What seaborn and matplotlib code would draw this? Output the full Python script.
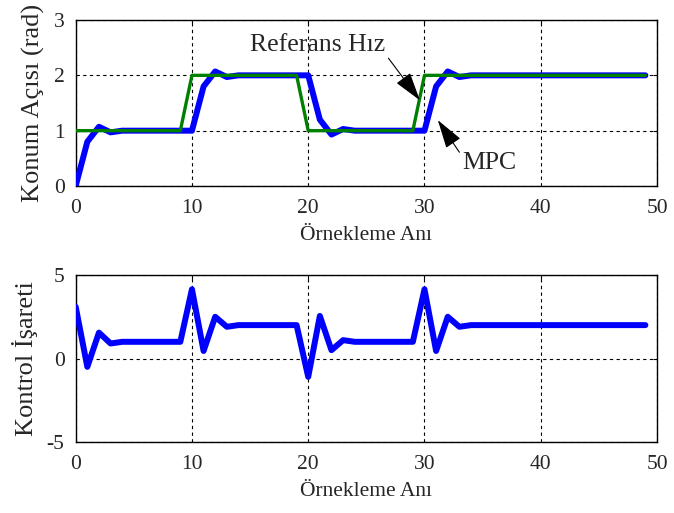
import numpy as np
import pandas as pd
import matplotlib
matplotlib.use("Agg")
import matplotlib.pyplot as plt
import seaborn as sns

# Sample index
k = list(range(50))

# Reference position (rad)
referans = [1]*10 + [2]*10 + [1]*10 + [2]*20

# MPC output position (rad)
mpc_cikis = ([0.0, 0.8, 1.07, 0.97] + [1.0]*7 +
             [1.8, 2.07, 1.97] + [2.0]*7 +
             [1.2, 0.93, 1.03] + [1.0]*7 +
             [1.8, 2.07, 1.97] + [2.0]*16)

# Control signal
kontrol = ([3.1, -0.5, 1.55, 0.9] + [1.0]*6 +
           [4.15, 0.45, 2.5, 1.9] + [2.0]*6 +
           [-1.1, 2.55, 0.5, 1.1] + [1.0]*6 +
           [4.15, 0.45, 2.5, 1.9] + [2.0]*16)

sns.set_theme(style="white")
plt.rcParams["font.family"] = ["Liberation Serif", "DejaVu Serif"]
plt.rcParams["axes.unicode_minus"] = False
plt.rcParams["xtick.direction"] = "in"
plt.rcParams["ytick.direction"] = "in"

df = pd.DataFrame({"k": k, "ref": referans, "mpc": mpc_cikis, "u": kontrol})

fig = plt.figure(figsize=(6.74, 5.13), dpi=100)
ax1 = fig.add_axes([0.1123, 0.6374, 0.8625, 0.3236])
ax2 = fig.add_axes([0.1123, 0.1384, 0.8625, 0.3255])

FS_TICK = 15.5
FS_X = 15.5
FS_Y = 19
FS_ANN = 18.5
BLUE = "#0000FF"
GREEN = "#008000"

sns.lineplot(data=df, x="k", y="mpc", ax=ax1, color=BLUE, lw=4.3, legend=False, zorder=3)
sns.lineplot(data=df, x="k", y="ref", ax=ax1, color=GREEN, lw=2.4, legend=False, zorder=4)
sns.lineplot(data=df, x="k", y="u", ax=ax2, color=BLUE, lw=4.3, legend=False, zorder=3)

ax1.set_xlim(0, 50)
ax1.set_ylim(0, 3)
ax1.set_yticks([0, 1, 2, 3])
ax2.set_xlim(0, 50)
ax2.set_ylim(-5, 5)
ax2.set_yticks([-5, 0, 5])

for ax in (ax1, ax2):
    ax.set_xticks([0, 10, 20, 30, 40, 50])
    ax.grid(True, color="black", linestyle=(0, (3, 3)), linewidth=0.8)
    ax.set_axisbelow(True)
    for s in ax.spines.values():
        s.set_color("black")
        s.set_linewidth(1.0)
    ax.tick_params(axis="both", labelsize=FS_TICK, length=3, width=0.8, color="black",
                   top=True, right=True)
    ax.tick_params(axis="x", pad=9)
    ax.tick_params(axis="y", pad=8)
    ax.set_xlabel("Örnekleme Anı", fontsize=FS_X, labelpad=6)

ax1.set_ylabel("Konum Açısı (rad)", fontsize=FS_Y, labelpad=6)
ax2.set_ylabel("Kontrol İşareti", fontsize=FS_Y, labelpad=6)

arrow = dict(arrowstyle="-|>,head_length=1.0,head_width=0.3", color="black",
             lw=0.8, mutation_scale=18, shrinkA=0, shrinkB=0)
ax1.annotate("Referans Hız", xy=(29.6, 1.55), xytext=(20.8, 2.55),
             fontsize=FS_ANN, ha="center", va="center", zorder=6)
ax1.annotate("", xy=(29.6, 1.55), xytext=(26.9, 2.31),
             arrowprops=arrow, zorder=6)
ax1.annotate("MPC", xy=(31.15, 1.19), xytext=(35.6, 0.42),
             fontsize=FS_ANN, ha="center", va="center", zorder=6)
ax1.annotate("", xy=(31.15, 1.19), xytext=(33.0, 0.61),
             arrowprops=arrow, zorder=6)

fig.savefig("out.png", dpi=100, facecolor="white")
